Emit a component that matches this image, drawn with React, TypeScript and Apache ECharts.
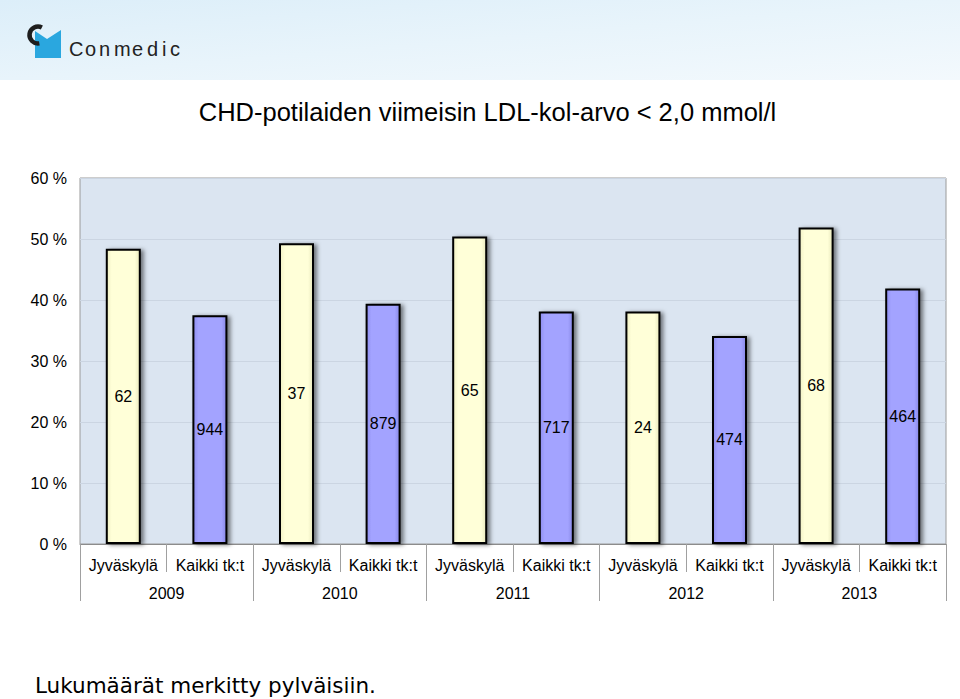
import React, { useEffect, useRef } from "react";
import * as echarts from "echarts";

const years = ["2009", "2010", "2011", "2012", "2013"];
const groups = ["Jyväskylä", "Kaikki tk:t"];
const jyvaskylaPct = [48.4, 49.3, 50.4, 38.1, 51.9];
const kaikkiPct = [37.5, 39.4, 38.1, 34.1, 41.9];
const jyvaskylaCount = [62, 37, 65, 24, 68];
const kaikkiCount = [944, 879, 717, 474, 464];
const yTicks = [0, 10, 20, 30, 40, 50, 60];

export default function App() {
  const ref = useRef<HTMLDivElement>(null);
  useEffect(() => {
    if (!ref.current) return;
    const chart = echarts.init(ref.current, undefined, { renderer: "svg" });
    const cats: string[] = [];
    const jyvData: any[] = [];
    const kaiData: any[] = [];
    years.forEach((y, i) => {
      cats.push(groups[0], groups[1]);
      jyvData.push(jyvaskylaPct[i], "-");
      kaiData.push("-", kaikkiPct[i]);
    });
    const counts: number[] = [];
    years.forEach((y, i) => counts.push(jyvaskylaCount[i], kaikkiCount[i]));

    const font = "Liberation Sans, Arial, sans-serif";
    const barCommon = {
      type: "bar",
      barWidth: 35,
      barGap: "-100%",
      label: {
        show: true,
        position: "inside",
        color: "#000",
        fontSize: 16,
        fontFamily: font,
        formatter: (p: any) => String(counts[p.dataIndex]),
      },
    };
    const logoLetters = ["C", "o", "n", "m", "e", "d", "i", "c"];
    const logoX = [69, 85, 99, 114, 132, 147, 162, 170];

    chart.setOption({
      animation: false,
      backgroundColor: "#ffffff",
      graphic: [
        {
          type: "rect",
          left: 0,
          top: 0,
          shape: { width: 960, height: 80 },
          style: {
            fill: new echarts.graphic.LinearGradient(0, 0, 1, 1, [
              { offset: 0, color: "#dceef9" },
              { offset: 0.5, color: "#e8f4fb" },
              { offset: 1, color: "#f3f9fd" },
            ]),
          },
          z: -10,
        },
        {
          type: "polygon",
          shape: {
            points: [
              [35, 31],
              [47, 39],
              [61, 30],
              [61, 58],
              [35, 58],
            ],
          },
          style: { fill: "#2aa7df" },
        },
        {
          type: "arc",
          shape: { cx: 38, cy: 35, r: 8.5, startAngle: Math.PI * 0.45, endAngle: Math.PI * 1.65, clockwise: true },
          style: { stroke: "#1e1e1e", lineWidth: 4.5, fill: "none" },
        },
        ...logoLetters.map((ch, i) => ({
          type: "text",
          x: logoX[i],
          y: 39,
          style: { text: ch, fontSize: 20, fontFamily: font, fill: "#222" },
        })),
        {
          type: "text",
          x: 487.5,
          y: 99,
          style: {
            text: "CHD-potilaiden viimeisin LDL-kol-arvo < 2,0 mmol/l",
            fontSize: 25.5,
            fontFamily: font,
            fill: "#000",
            align: "center",
          },
        },
        {
          type: "text",
          x: 35,
          y: 674,
          style: {
            text: "Lukumäärät merkitty pylväisiin.",
            fontSize: 21.5,
            fontFamily: "DejaVu Sans",
            fill: "#000",
          },
        },
      ],
      grid: {
        left: 80,
        right: 14,
        top: 178,
        bottom: 155,
        show: true,
        backgroundColor: "#dbe5f1",
        borderColor: "#9a9a9a",
        borderWidth: 1,
      },
      xAxis: [
        {
          type: "category",
          data: cats,
          axisLine: { show: true, lineStyle: { color: "#8c8c8c" } },
          axisTick: { show: true, interval: 0, length: 28, lineStyle: { color: "#a0a0a0" } },
          axisLabel: { interval: 0, fontSize: 16, color: "#000", margin: 13, fontFamily: font },
        },
        {
          type: "category",
          data: years,
          position: "bottom",
          axisLine: { show: false },
          axisTick: { show: true, interval: 0, length: 57, lineStyle: { color: "#a0a0a0" } },
          axisLabel: { interval: 0, fontSize: 16, color: "#000", margin: 41, fontFamily: font },
        },
      ],
      yAxis: {
        type: "value",
        min: 0,
        max: 60,
        interval: 10,
        axisLine: { show: false },
        axisTick: { show: false },
        axisLabel: {
          formatter: (v: number) => (yTicks.includes(v) ? v + " %" : ""),
          fontSize: 16,
          color: "#000",
          margin: 13,
          fontFamily: font,
        },
        splitLine: { lineStyle: { color: "#cbd5e2" } },
      },
      series: [
        {
          ...barCommon,
          name: "Jyväskylä",
          data: jyvData,
          itemStyle: {
            color: new echarts.graphic.LinearGradient(0, 0, 1, 0, [
              { offset: 0, color: "#f0f0c4" },
              { offset: 0.15, color: "#ffffd8" },
              { offset: 0.85, color: "#ffffd8" },
              { offset: 1, color: "#e8e8bc" },
            ]),
            borderColor: "#000",
            borderWidth: 2,
            shadowColor: "rgba(0,0,0,0.5)",
            shadowBlur: 4,
            shadowOffsetX: 3,
            shadowOffsetY: 1,
          },
        },
        {
          ...barCommon,
          name: "Kaikki tk:t",
          data: kaiData,
          itemStyle: {
            color: new echarts.graphic.LinearGradient(0, 0, 1, 0, [
              { offset: 0, color: "#8e8ef0" },
              { offset: 0.15, color: "#a3a3ff" },
              { offset: 0.85, color: "#a3a3ff" },
              { offset: 1, color: "#8888e6" },
            ]),
            borderColor: "#000",
            borderWidth: 2,
            shadowColor: "rgba(0,0,0,0.5)",
            shadowBlur: 4,
            shadowOffsetX: 3,
            shadowOffsetY: 1,
          },
        },
      ],
    });
    return () => chart.dispose();
  }, []);
  return <div ref={ref} style={{ width: 960, height: 699, position: "absolute", left: 0, top: 0 }} />;
}
